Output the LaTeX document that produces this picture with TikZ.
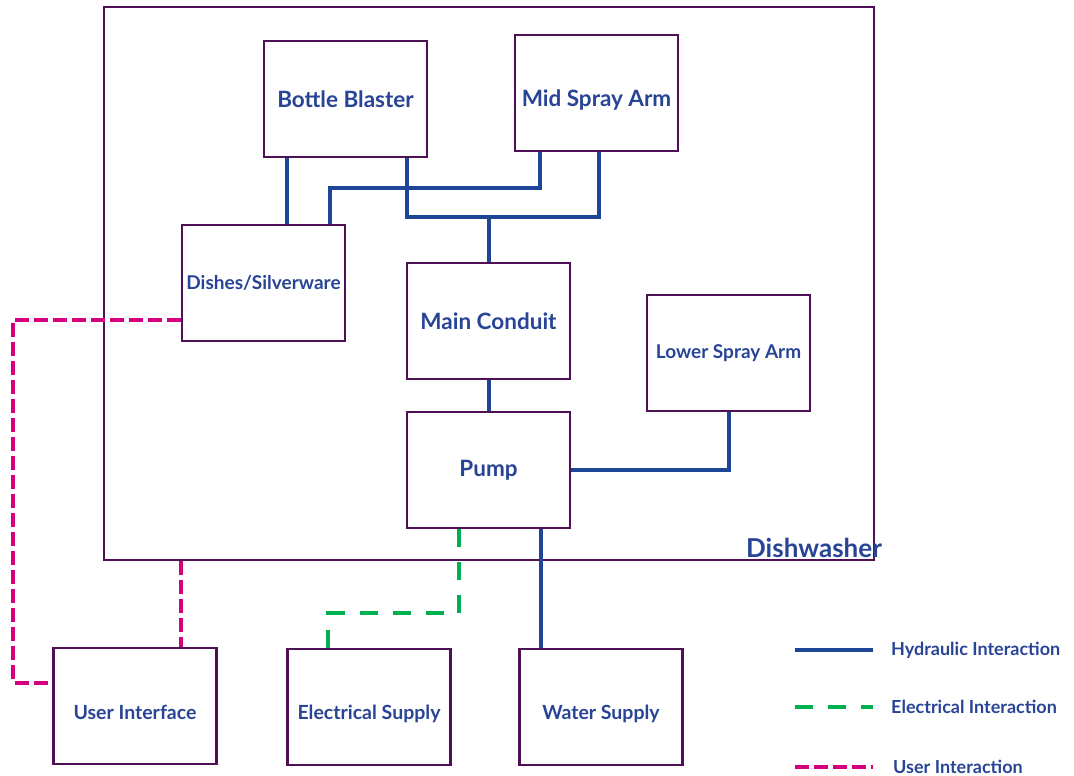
\documentclass[tikz,border=0pt]{standalone}
\usepackage{fontspec}
\setmainfont{Lato}
\usepackage{tikz}
\usetikzlibrary{%
	positioning,%
	calc
}
\definecolor{boxpurple}{RGB}{80,16,85}
\definecolor{textblue}{RGB}{40,68,150}
\definecolor{hydblue}{RGB}{31,69,151}
\definecolor{elecgreen}{RGB}{0,176,80}
\definecolor{userpink}{RGB}{214,0,127}
\tikzstyle{block} = [rectangle, draw = boxpurple, line width = 2.5pt, minimum width = 163pt, minimum height = 116pt, text = textblue, font = \bfseries\fontsize{22.5}{24}\selectfont]
\tikzstyle{smallblock} = [block, font = \bfseries\fontsize{19}{21}\selectfont]
\tikzstyle{supply} = [block, text height = 28pt, font = \bfseries\fontsize{19.5}{21}\selectfont]
\tikzstyle{hydraulic} = [draw = hydblue, line width = 4pt]
\tikzstyle{electric} = [draw = elecgreen, line width = 4pt, dash pattern = on 18pt off 15pt]
\tikzstyle{userline} = [draw = userpink, line width = 4pt, dash pattern = on 14pt off 5pt]
\tikzstyle{legend} = [anchor = west, inner sep = 0pt, text = textblue, font = \bfseries\fontsize{18}{20}\selectfont]

\begin{document}
\begin{tikzpicture}[x=1pt,y=1pt]
	\useasboundingbox (0,0) rectangle (1074,776);

	% The dishwasher itself
	\node[draw = boxpurple, line width = 2.5pt, minimum width = 770pt, minimum height = 553pt] (dishwasher) at (489,492.5) {};
	\node[text = textblue, font = \bfseries\fontsize{26}{28}\selectfont] (dishlabel) at (814,228) {Dishwasher};

	% First we draw the blocks
	\foreach \pos/\name/\txt in {{(345.5,677)/bottle/Bottle Blaster},
		{(488.5,455)/conduit/Main Conduit}, {(488.5,306)/pump/Pump}}
	\node[block, fill = white] (\name) at \pos {\txt};
	\node[block, fill = white, text height = 30pt] (midarm) at (596.5,683) {Mid Spray Arm};

	\foreach \pos/\name/\txt in {{(263.5,493)/dishes/{Dishes/Silverware}}, {(728.5,423)/lowerarm/Lower Spray Arm}}
	\node[smallblock, fill = white] (\name) at \pos {\txt};

	\foreach \pos/\name/\txt in {{(135,70)/ui/User Interface}, {(369,69)/elec/Electrical Supply}, {(601,69)/water/Water Supply}}
	\node[supply] (\name) at \pos {\txt};

	% Hydraulic connections
	\coordinate (tee) at ($(conduit.north)+(0,45)$);
	\draw[hydraulic] ([xshift=24pt]bottle.south west) -- ([xshift=24pt]bottle.south west |- dishes.north);
	\draw[hydraulic] ([xshift=-21pt]bottle.south east) |- (tee) -| ([xshift=-80pt]midarm.south east);
	\draw[hydraulic] (tee) -- (conduit.north);
	\draw[hydraulic] ([xshift=26pt]midarm.south west) -- ++(0,-36) -| ([xshift=-16pt]dishes.north east);
	\draw[hydraulic] (conduit.south) -- (pump.north);
	\draw[hydraulic] (pump.east) -| (lowerarm.south);
	\draw[hydraulic] ([xshift=-30pt]pump.south east) -- ([xshift=-30pt]pump.south east |- water.north);

	% Electrical connection
	\draw[electric] ([xshift=53pt]pump.south west) -- ++(0,-84) -| ([xshift=42pt]elec.north west);

	% User connections
	\coordinate (uicorner) at ($(ui.west)+(-39,23)$);
	\draw[userline] ([yshift=-37pt]dishes.west) -| (uicorner) -- ([yshift=23pt]ui.west);
	\draw[userline] ([xshift=78pt]dishwasher.south west) -- ([xshift=78pt]dishwasher.south west |- ui.north);

	% Legend
	\node[legend] (leghyd) at (891,126) {Hydraulic Interaction};
	\node[legend] (legelec) at (891,69) {Electrical Interaction};
	\node[legend] (leguser) at (893,9) {User Interaction};
	\draw[hydraulic] ([xshift=-96pt]leghyd.west) -- ([xshift=-18pt]leghyd.west);
	\draw[electric] ([xshift=-96pt]legelec.west) -- ([xshift=-18pt]legelec.west);
	\draw[userline] ([xshift=-98pt]leguser.west) -- ([xshift=-20pt]leguser.west);

\end{tikzpicture}
\end{document}
